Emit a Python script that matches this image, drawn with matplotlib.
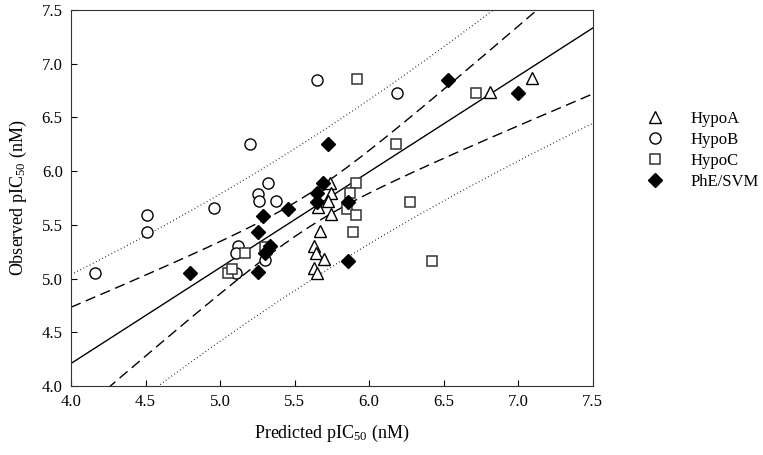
import numpy as np
import matplotlib
matplotlib.use("Agg")
import matplotlib.pyplot as plt

plt.rcParams['font.family'] = ['Liberation Serif', 'DejaVu Serif']
plt.rcParams['mathtext.fontset'] = 'custom'
plt.rcParams['mathtext.rm'] = 'Liberation Serif'
plt.rcParams['mathtext.it'] = 'Liberation Serif:italic'

# ---- data (predicted, observed) ----
hypoA_x = [6.81, 7.09, 5.74, 5.745, 5.725, 5.66, 5.745, 5.67, 5.63, 5.645, 5.70, 5.63, 5.65]
hypoA_y = [6.74, 6.87, 5.89, 5.80, 5.72, 5.67, 5.60, 5.44, 5.30, 5.24, 5.18, 5.10, 5.05]

hypoB_x = [5.65, 6.19, 5.20, 5.32, 5.255, 5.26, 5.376, 4.96, 5.12, 5.11, 5.30, 5.11, 4.51, 4.51, 4.16]
hypoB_y = [6.85, 6.73, 6.25, 5.89, 5.79, 5.72, 5.72, 5.66, 5.30, 5.24, 5.17, 5.05, 5.59, 5.43, 5.05]

hypoC_x = [5.92, 6.18, 6.72, 5.91, 5.87, 5.85, 5.91, 5.89, 6.275, 6.42, 5.17, 5.05, 5.08, 5.30]
hypoC_y = [6.86, 6.25, 6.73, 5.89, 5.80, 5.65, 5.59, 5.43, 5.71, 5.165, 5.24, 5.05, 5.09, 5.29]

svm_x = [6.53, 7.00, 5.725, 5.456, 5.29, 5.255, 5.335, 5.30, 4.80, 5.255, 5.69, 5.65, 5.65, 5.86, 5.86]
svm_y = [6.85, 6.73, 6.25, 5.65, 5.58, 5.43, 5.30, 5.24, 5.05, 5.06, 5.89, 5.80, 5.71, 5.71, 5.165]

# regression line and band parameters
reg_intercept_at4 = 4.21
reg_slope = 0.892
band_center = 5.6
conf_a = 0.024
pred_a = 0.435
band_b = 0.0975

fig = plt.figure(figsize=(7.63, 4.55), dpi=100)
ax = fig.add_axes([0.0931, 0.1516, 0.6837, 0.8264])

xs = np.linspace(4.0, 7.5, 400)
yfit = reg_intercept_at4 + reg_slope * (xs - 4.0)
hc = np.sqrt(conf_a + band_b * (xs - band_center) ** 2)
hp = np.sqrt(pred_a + band_b * (xs - band_center) ** 2)

ax.plot(xs, yfit, color='black', lw=1.0, zorder=1)
ax.plot(xs, yfit + hc, color='black', lw=1.0, ls=(0, (7.5, 4)), zorder=1)
ax.plot(xs, yfit - hc, color='black', lw=1.0, ls=(0, (7.5, 4)), zorder=1)
ax.plot(xs, yfit + hp, color='black', lw=0.9, ls=(0, (0.6, 2.2)), zorder=1)
ax.plot(xs, yfit - hp, color='black', lw=0.9, ls=(0, (0.6, 2.2)), zorder=1)

ax.plot(hypoA_x, hypoA_y, ls='none', marker='^', ms=8, mfc='white', mec='black', mew=1.0, label='HypoA', zorder=3)
ax.plot(hypoB_x, hypoB_y, ls='none', marker='o', ms=8, mfc='white', mec='black', mew=1.0, label='HypoB', zorder=3)
ax.plot(hypoC_x, hypoC_y, ls='none', marker='s', ms=7.3, mfc='white', mec='#333333', mew=1.1, label='HypoC', zorder=3)
ax.plot(svm_x, svm_y, ls='none', marker='D', ms=7.3, mfc='black', mec='black', mew=1.0, label='PhE/SVM', zorder=4)

ax.set_xlim(4.0, 7.5)
ax.set_ylim(4.0, 7.5)
ticks = np.arange(4.0, 7.51, 0.5)
ax.set_xticks(ticks)
ax.set_yticks(ticks)
ax.set_xticklabels([f"{t:.1f}" for t in ticks])
ax.set_yticklabels([f"{t:.1f}" for t in ticks])
ax.tick_params(direction='in', length=4, width=0.8, labelsize=12, pad=6)
for s in ax.spines.values():
    s.set_linewidth(0.8)
    s.set_color('#333333')

ax.set_xlabel('Predicted pIC$_{50}$ (nM)', fontsize=13, labelpad=9)
ax.set_ylabel('Observed pIC$_{50}$ (nM)', fontsize=13, labelpad=9)

leg = fig.legend(loc='upper left', bbox_to_anchor=(0.828, 0.79), frameon=False,
                 fontsize=12, handletextpad=1.6, labelspacing=0.3, handlelength=1.0)

fig.savefig('out.png', dpi=100)
